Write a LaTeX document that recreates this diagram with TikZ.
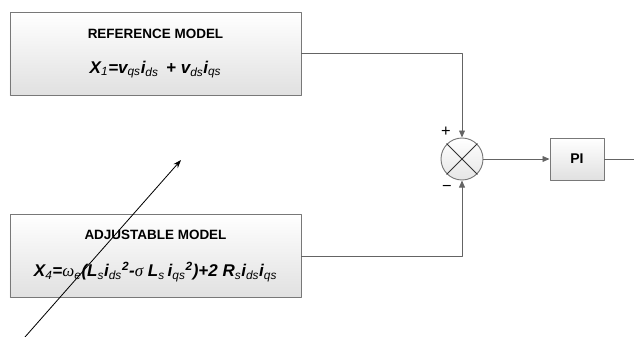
\documentclass[tikz,border=0pt]{standalone}
\usepackage{fontspec}
\setmainfont{Liberation Sans}
\newfontfamily\grkfont{Liberation Serif}
\usetikzlibrary{arrows.meta}
\definecolor{lineg}{RGB}{100,100,100}
\definecolor{boxg}{RGB}{120,120,120}

\tikzset{
  modelbox/.style={draw=boxg,line width=0.8pt,top color=white,bottom color=black!12,
    minimum width=8.73cm,minimum height=2.49cm,align=center,inner sep=0pt},
  sig/.style={draw=lineg,line width=0.8pt,-{Triangle[length=6pt,width=5pt]}},
}
\newcommand{\sbs}[1]{\textsubscript{\mdseries #1}}

\begin{document}
\begin{tikzpicture}[x=0.03cm,y=-0.03cm,line cap=round,line join=round]
\useasboundingbox (0,0) rectangle (634,337);
% model blocks
\node[modelbox] (ref) at (155.5,53.5) {\fontsize{11.5}{14}\selectfont\bfseries REFERENCE MODEL\\[18pt]
  \fontsize{14.5}{14}\selectfont\bfseries\itshape X\sbs{1}=v\sbs{qs}i\sbs{ds}\, + v\sbs{ds}i\sbs{qs}};
\node[modelbox] (adj) at (155.5,256) {\fontsize{11.5}{14}\selectfont\bfseries ADJUSTABLE MODEL\\[18pt]
  \fontsize{14.5}{14}\selectfont\bfseries\itshape X\sbs{4}={\mdseries\grkfont ω}\sbs{e}(L\sbs{s}i\sbs{ds}\textsuperscript{2}-{\mdseries\grkfont σ} L\sbs{s}\,i\sbs{qs}\textsuperscript{2})+2 R\sbs{s}i\sbs{ds}i\sbs{qs}};
% comparator and controller
\node[circle,draw=boxg,line width=0.8pt,top color=white,bottom color=black!10,minimum size=1.26cm,inner sep=0pt] (sum) at (462,159) {};
\draw[black!80,line width=0.8pt] (sum.north west) -- (sum.south east) (sum.north east) -- (sum.south west);
\node[draw=boxg,line width=0.8pt,top color=white,bottom color=black!12,minimum width=1.62cm,minimum height=1.26cm,inner sep=0pt,font=\fontsize{12}{14}\selectfont\bfseries] (pi) at (577,159) {PI};
\node[font=\fontsize{14}{14}\selectfont] (plus) at (446,132) {+};
\node[font=\fontsize{14}{14}\selectfont] (minus) at (447,188) {−};
\coordinate (out) at (634,159);
% signal lines
\draw[sig] (ref.east) -| (sum.north);
\draw[sig] (adj.east) -| (sum.south);
\draw[sig] (sum.east) -- (pi.west);
\draw[draw=lineg,line width=0.8pt] (pi.east) -- (out);
% adaptation arrow
\coordinate (adpa) at (25,337);
\coordinate (adpb) at (181,160);
\draw[black,line width=0.7pt,-{Stealth[length=7pt,width=5pt]}] (adpa) -- (adpb);
\end{tikzpicture}
\end{document}
